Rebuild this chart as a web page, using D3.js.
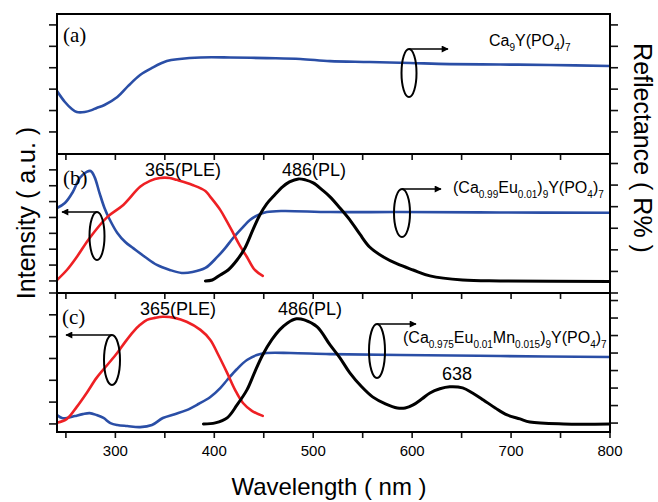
<!DOCTYPE html>
<html>
<head>
<meta charset="utf-8">
<script src="https://cdn.jsdelivr.net/npm/d3@7"></script>
<style>
  body { margin: 0; background: #fff; }
  svg { display: block; font-family: "Liberation Sans", Arial, sans-serif; }
  .frame { fill: none; stroke: #000; stroke-width: 2; }
  .tick { stroke: #111; stroke-width: 1.6; }
  .curve { fill: none; stroke-linejoin: round; stroke-linecap: round; }
</style>
</head>
<body>
<svg id="chart" width="658" height="502"></svg>
<script>
// wavelength axis
const xMajorTicks = [300, 400, 500, 600, 700, 800];
const xMinorTicks = [250, 350, 450, 550, 650, 750];

// (a) Ca9Y(PO4)7 reflectance
const wlReflA = [241, 249, 256, 261, 269, 276, 281, 289, 302, 313, 325, 337, 352, 365, 386, 416, 453, 487, 517, 557, 598, 638, 689, 739, 800];
const reflA   = [29.1, 24.0, 20.7, 19.3, 19.3, 20.2, 21.2, 22.6, 26.3, 31.5, 36.6, 39.9, 43.1, 44.1, 44.8, 44.8, 44.5, 44.1, 43.1, 42.7, 42.2, 41.7, 41.5, 41.3, 40.8];

// (b) (Ca0.99Eu0.01)9Y(PO4)7
const wlReflB = [241, 249, 257, 264, 271, 275, 279, 284, 289, 294, 302, 310, 318, 330, 342, 355, 367, 378, 391, 403, 411, 419, 428, 436, 444, 453, 469, 517, 588, 689, 800];
const reflB   = [39.4, 41.7, 46.8, 53.3, 56.1, 56.5, 53.7, 46.3, 39.4, 34.3, 27.8, 23.6, 20.8, 16.7, 13.0, 10.7, 9.3, 9.7, 11.6, 16.7, 20.8, 25.5, 30.1, 33.8, 36.1, 37.5, 38.0, 37.5, 37.5, 37.3, 37.2];
const wlPleB  = [241, 251, 261, 274, 292, 308, 325, 335, 345, 355, 362, 378, 391, 396, 406, 413, 419, 426, 433, 441, 449];
const pleB    = [0.06, 0.69, 1.51, 2.71, 4.04, 4.79, 5.93, 6.31, 6.49, 6.49, 6.37, 6.05, 5.67, 5.30, 4.48, 3.72, 3.03, 2.21, 1.51, 0.69, 0.32];
const wlPlB   = [391, 398, 406, 414, 423, 431, 439, 446, 453, 461, 469, 476, 485, 492, 500, 509, 517, 527, 537, 547, 557, 571, 585, 601, 618, 651, 689, 800];
const plB     = [0.0, 0.06, 0.38, 0.69, 1.32, 2.08, 3.22, 4.16, 4.86, 5.42, 5.93, 6.24, 6.43, 6.37, 6.18, 5.74, 5.30, 4.60, 3.85, 2.96, 2.14, 1.51, 1.07, 0.69, 0.32, 0.06, 0.0, -0.03];

// (c) (Ca0.975Eu0.01Mn0.015)9Y(PO4)7
const wlReflC = [241, 246, 251, 259, 267, 274, 281, 288, 295, 302, 312, 325, 337, 348, 360, 372, 384, 396, 406, 413, 423, 433, 443, 453, 477, 517, 588, 689, 800];
const reflC   = [4.6, 2.9, 2.9, 4.0, 5.1, 5.7, 4.6, 2.9, 0.0, -1.1, -1.7, -2.3, -1.1, 2.9, 5.1, 7.4, 10.9, 14.9, 20.0, 24.6, 30.9, 36.0, 38.9, 40.0, 40.0, 39.4, 38.9, 38.3, 37.7];
const wlPleC  = [241, 251, 261, 271, 281, 292, 302, 310, 318, 325, 332, 340, 348, 360, 372, 386, 396, 404, 413, 421, 429, 438, 449];
const pleC    = [0.05, 0.23, 0.78, 1.42, 2.11, 2.71, 3.26, 3.76, 4.22, 4.54, 4.77, 4.86, 4.91, 4.86, 4.68, 4.31, 3.85, 3.17, 2.34, 1.56, 0.96, 0.60, 0.37];
const wlPlC   = [389, 401, 413, 423, 433, 441, 449, 458, 466, 474, 483, 491, 504, 517, 527, 537, 549, 560, 573, 585, 593, 601, 610, 618, 628, 638, 651, 661, 672, 684, 696, 709, 719, 753, 800];
const plC     = [0.0, 0.05, 0.28, 0.87, 1.56, 2.39, 3.17, 3.85, 4.31, 4.63, 4.82, 4.77, 4.45, 3.62, 3.03, 2.34, 1.70, 1.24, 0.92, 0.73, 0.73, 0.87, 1.15, 1.42, 1.61, 1.70, 1.65, 1.42, 1.10, 0.73, 0.41, 0.23, 0.09, 0.0, 0.0];

// tick values on the (unlabelled) y axes
const leftTicksA = [0, 1, 2, 3, 4, 5];
const rightTicksA = [10, 20, 30, 40, 50, 60];
const leftTicksB = [0, 1, 2, 3, 4, 5, 6, 7];
const rightTicksB = [0, 10, 20, 30, 40, 50, 60];
const leftTicksC = [0, 1, 2, 3, 4, 5, 6];
const rightTicksC = [0, 10, 20, 30, 40, 50, 60, 70];

const blue = '#2a4ea6', red = '#ee2024', black = '#000';

const svg = d3.select('#chart');
const left = 57, right = 610;

const x = d3.scaleLinear().domain([241, 800]).range([left, right]);

const panels = [
  { top: 14, bottom: 154, leftDomain: [-1.03, 5.51], rightDomain: [-0.3, 65.1],
    leftTicks: leftTicksA, rightTicks: rightTicksA,
    refl: [wlReflA, reflA], ple: null, pl: null },
  { top: 154, bottom: 293, leftDomain: [-0.76, 8.0], rightDomain: [0, 64.4],
    leftTicks: leftTicksB, rightTicks: rightTicksB,
    refl: [wlReflB, reflB], ple: [wlPleB, pleB], pl: [wlPlB, plB] },
  { top: 293, bottom: 432, leftDomain: [-0.37, 6.0], rightDomain: [-5.1, 74.3],
    leftTicks: leftTicksC, rightTicks: rightTicksC,
    refl: [wlReflC, reflC], ple: [wlPleC, pleC], pl: [wlPlC, plC] }
];

const zip = (xs, ys) => xs.map((v, i) => [v, ys[i]]);

panels.forEach((p, i) => {
  const yL = d3.scaleLinear().domain(p.leftDomain).range([p.bottom, p.top]);
  const yR = d3.scaleLinear().domain(p.rightDomain).range([p.bottom, p.top]);

  svg.append('clipPath').attr('id', 'clip' + i)
    .append('rect').attr('x', left).attr('y', p.top)
    .attr('width', right - left).attr('height', p.bottom - p.top);

  const g = svg.append('g').attr('clip-path', `url(#clip${i})`);

  const draw = (pair, scale, color, w) => {
    if (!pair) return;
    const line = d3.line()
      .x(d => x(d[0]))
      .y(d => scale(d[1]))
      .curve(d3.curveCatmullRom.alpha(0.5));
    g.append('path').attr('class', 'curve')
      .attr('d', line(zip(pair[0], pair[1])))
      .attr('stroke', color).attr('stroke-width', w);
  };
  draw(p.refl, yR, blue, 2.6);
  draw(p.ple, yL, red, 2.6);
  draw(p.pl, yL, black, 3);

  // left ticks (outward)
  svg.append('g').attr('transform', `translate(${left},0)`)
    .selectAll('line').data(p.leftTicks).enter().append('line')
    .attr('class', 'tick')
    .attr('x1', -8).attr('x2', 0)
    .attr('y1', d => yL(d)).attr('y2', d => yL(d));

  // right ticks (outward)
  svg.append('g').attr('transform', `translate(${right},0)`)
    .selectAll('line').data(p.rightTicks).enter().append('line')
    .attr('class', 'tick')
    .attr('x1', 0).attr('x2', 8)
    .attr('y1', d => yR(d)).attr('y2', d => yR(d));

  // bottom ticks (outward)
  svg.append('g').attr('transform', `translate(0,${p.bottom})`)
    .selectAll('line').data(xMajorTicks.concat(xMinorTicks)).enter().append('line')
    .attr('class', 'tick')
    .attr('x1', d => x(d)).attr('x2', d => x(d))
    .attr('y1', 0).attr('y2', 6);

  svg.append('rect').attr('class', 'frame')
    .attr('x', left).attr('y', p.top)
    .attr('width', right - left).attr('height', p.bottom - p.top);
});

// wavelength tick labels on the last panel
svg.append('g').selectAll('text').data(xMajorTicks).enter().append('text')
  .attr('x', d => x(d)).attr('y', 456)
  .attr('text-anchor', 'middle')
  .attr('font-size', 15)
  .text(d => d);

// axis titles
svg.append('text')
  .attr('x', 329).attr('y', 495)
  .attr('text-anchor', 'middle').attr('font-size', 24)
  .text('Wavelength ( nm )');

svg.append('text')
  .attr('transform', 'translate(35,213) rotate(-90)')
  .attr('text-anchor', 'middle').attr('font-size', 25)
  .text('Intensity ( a.u. )');

svg.append('text')
  .attr('transform', 'translate(634,148) rotate(90)')
  .attr('text-anchor', 'middle').attr('font-size', 25)
  .text('Reflectance ( R% )');

// panel letters
[['(a)', 63, 42], ['(b)', 63, 185], ['(c)', 62, 324]].forEach(([t, px, py]) => {
  svg.append('text').attr('x', px).attr('y', py)
    .attr('font-family', '"Liberation Serif", "Times New Roman", serif')
    .attr('font-size', 21).text(t);
});

// peak labels
[['365(PLE)', 145, 176], ['486(PL)', 282, 176],
 ['365(PLE)', 140, 315], ['486(PL)', 278, 315], ['638', 442, 380]].forEach(([t, px, py]) => {
  svg.append('text').attr('x', px).attr('y', py)
    .attr('font-size', 18).text(t);
});

// chemical formulas, [text, subscript?]
const formulaA = [['Ca', 0], ['9', 1], ['Y(PO', 0], ['4', 1], [')', 0], ['7', 1]];
const formulaB = [['(Ca', 0], ['0.99', 1], ['Eu', 0], ['0.01', 1], [')', 0], ['9', 1], ['Y(PO', 0], ['4', 1], [')', 0], ['7', 1]];
const formulaC = [['(Ca', 0], ['0.975', 1], ['Eu', 0], ['0.01', 1], ['Mn', 0], ['0.015', 1], [')', 0], ['9', 1], ['Y(PO', 0], ['4', 1], [')', 0], ['7', 1]];

[[formulaA, 489, 46], [formulaB, 453, 193], [formulaC, 403, 343]].forEach(([parts, px, py]) => {
  const t = svg.append('text').attr('x', px).attr('y', py).attr('font-size', 16);
  parts.forEach(([s, sub]) => {
    t.append('tspan')
      .attr('y', sub ? py + 5 : py)
      .attr('font-size', sub ? 10 : 16)
      .text(s);
  });
});

// ellipse markers with arrows pointing to the axis used
svg.append('defs').append('marker')
  .attr('id', 'arrow').attr('viewBox', '0 0 10 10')
  .attr('refX', 9).attr('refY', 5)
  .attr('markerWidth', 9).attr('markerHeight', 7)
  .attr('markerUnits', 'userSpaceOnUse')
  .attr('orient', 'auto')
  .append('path').attr('d', 'M0,0 L10,5 L0,10 z').attr('fill', '#000');

const markers = [
  { cx: 409, cy: 73, rx: 7.5, ry: 24, x2: 448 },
  { cx: 402, cy: 213, rx: 8, ry: 24, x2: 441 },
  { cx: 97, cy: 236, rx: 7.5, ry: 24, x2: 62 },
  { cx: 112, cy: 360, rx: 8, ry: 25, x2: 66 },
  { cx: 377, cy: 351, rx: 8, ry: 27, x2: 416 }
];
markers.forEach(m => {
  svg.append('ellipse')
    .attr('cx', m.cx).attr('cy', m.cy).attr('rx', m.rx).attr('ry', m.ry)
    .attr('fill', 'none').attr('stroke', '#000').attr('stroke-width', 2);
  svg.append('line')
    .attr('x1', m.cx).attr('y1', m.cy - m.ry)
    .attr('x2', m.x2).attr('y2', m.cy - m.ry)
    .attr('stroke', '#000').attr('stroke-width', 1.6)
    .attr('marker-end', 'url(#arrow)');
});
</script>
</body>
</html>
